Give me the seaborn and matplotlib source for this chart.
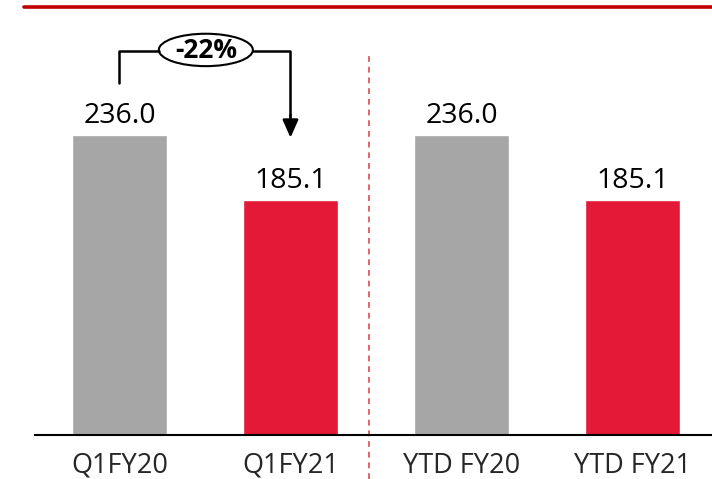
import matplotlib
matplotlib.use("Agg")
import matplotlib.pyplot as plt
from matplotlib.patches import Ellipse
import seaborn as sns
import pandas as pd

categories = ["Q1FY20", "Q1FY21", "YTD FY20", "YTD FY21"]
values = [236.0, 185.1, 236.0, 185.1]
change_label = "-22%"

GREY = "#A6A6A6"
RED = "#E31937"
bar_colors = [GREY, RED, GREY, RED]

sns.set_theme(style="white")
plt.rcParams["font.family"] = ["Open Sans", "DejaVu Sans"]

df = pd.DataFrame({"period": categories, "value": values})

W, H = 712, 479
fig = plt.figure(figsize=(W / 100, H / 100), dpi=100)
ax = fig.add_axes([35 / W, (H - 435) / H, (712 - 35) / W, 435 / H])

sns.barplot(data=df, x="period", y="value", hue="period", palette=bar_colors,
            width=0.556, legend=False, ax=ax, saturation=1)

ax.set_xlim(-0.494, 3.465)
ax.set_ylim(0, 342.3)
ax.set_xlabel("")
ax.set_ylabel("")
ax.set_yticks([])
for side in ["top", "right", "left"]:
    ax.spines[side].set_visible(False)
ax.spines["bottom"].set_color("black")
ax.spines["bottom"].set_linewidth(1.5)
ax.tick_params(axis="x", length=0, pad=12, labelsize=19.5)

# value labels above bars
for i, v in enumerate(values):
    ax.text(i, v + 9.5, f"{v:.1f}", ha="center", va="baseline", fontsize=20.5,
            color="black")

# separator between quarterly and year-to-date
ax.plot([1.46, 1.46], [-35, 298], ls=(0, (3, 2.5)), color="#E06666", lw=1.4,
        clip_on=False, zorder=1)

# change bracket between the first two bars
y_top = 302
ax.plot([0, 0, 0.23], [277, y_top, y_top], color="black", lw=1.8, clip_on=False)
ax.plot([0.78, 1, 1], [y_top, y_top, 250], color="black", lw=1.8, clip_on=False)
ax.annotate("", xy=(1, 234), xytext=(1, 252),
            arrowprops=dict(arrowstyle="-|>,head_length=0.9,head_width=0.4",
                            color="black", lw=1.8, shrinkA=0, shrinkB=0))
ax.add_patch(Ellipse((0.505, y_top + 1), 0.55, 25.5, fill=False, edgecolor="black",
                     lw=1.5, clip_on=False))
ax.text(0.505, y_top + 0.5, change_label, ha="center", va="center", fontsize=19,
        fontweight="bold", color="black")

# red rule across the top
fig.add_artist(plt.Line2D([24 / W, 1], [1 - 6.5 / H, 1 - 6.5 / H], color="#C00000",
                          lw=2.6))

fig.savefig("out.png", dpi=100)
